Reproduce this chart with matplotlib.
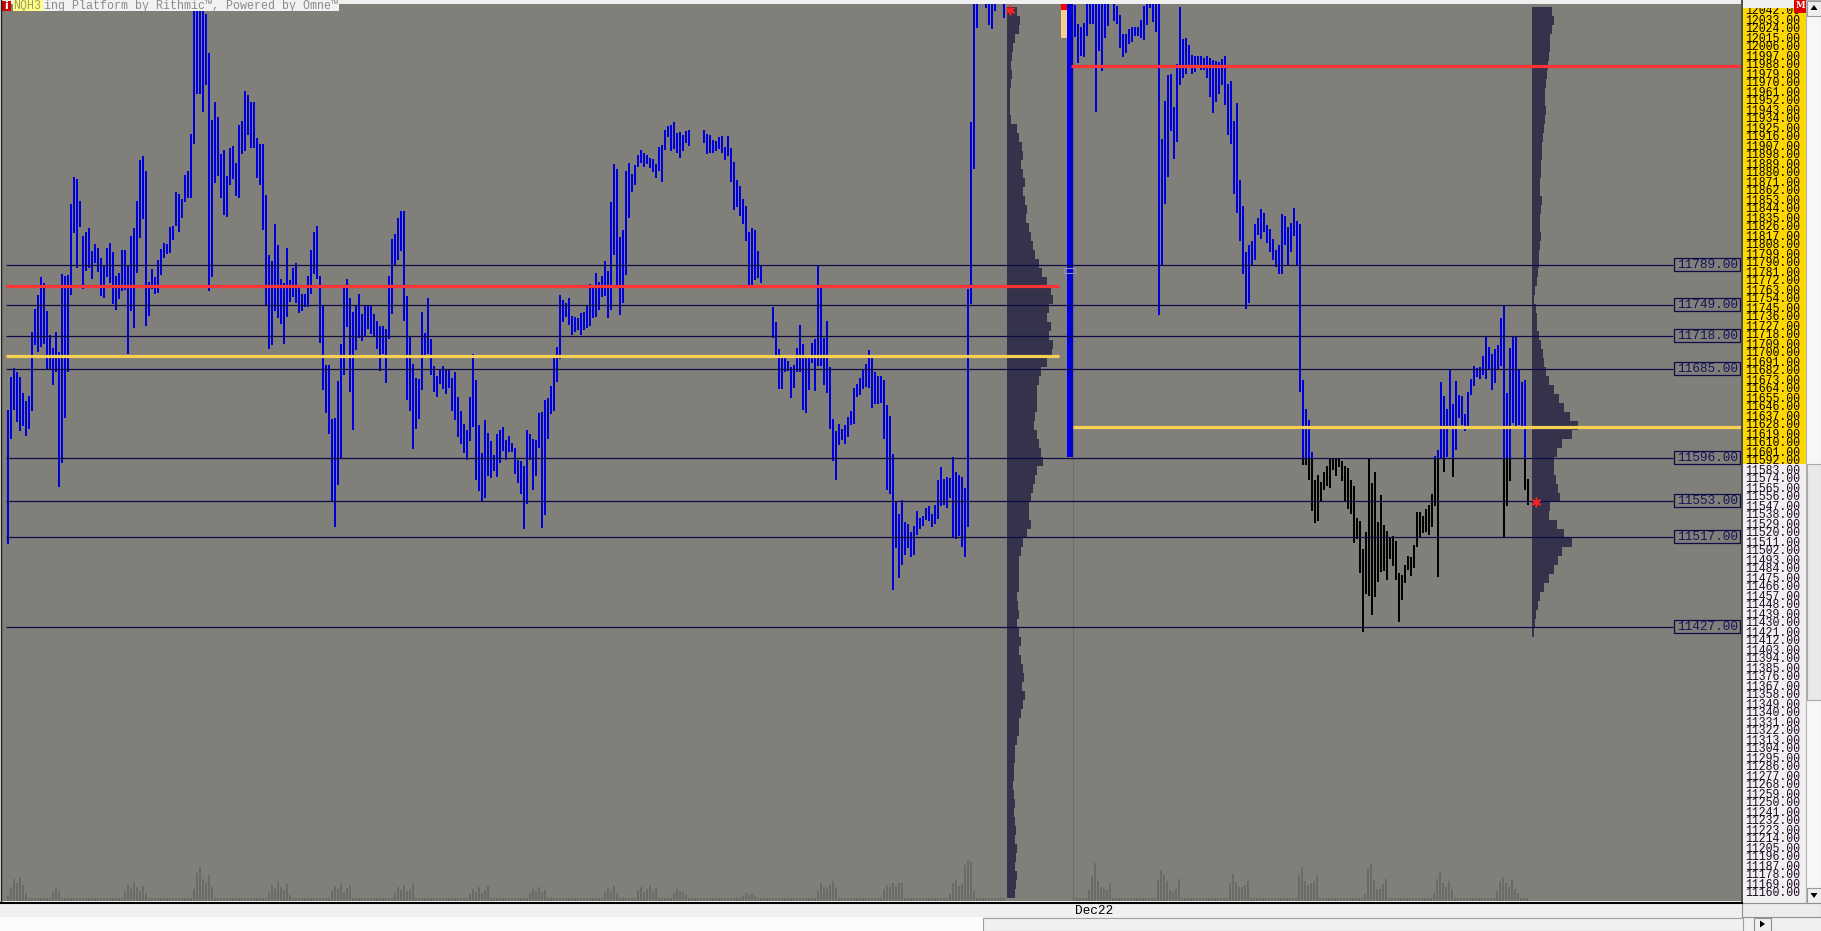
import numpy as np
import matplotlib
matplotlib.use("Agg")
import matplotlib.pyplot as plt
from matplotlib.patches import Rectangle, Polygon

nan = np.nan

# ---------------- data ----------------
# previous session bars (high / low), one per bar
LEFT_HIGH = [
    11644, 11677, 11686, 11682, 11677, 11661, 11653, 11658, 11722, 11745,
    11759, 11777, 11771, 11743, 11719, 11706, 11722, 11702, 11780, 11778,
    11779, 11850, 11877, 11875, 11853, 11818, 11822, 11826, 11803, 11810,
    11806, 11796, 11789, 11806, 11811, 11802, 11778, 11781, 11804, 11804,
    11789, 11818, 11826, 11853, 11894, 11898, 11883, 11772, 11785, 11777,
    11794, 11805, 11811, 11810, 11827, 11828, 11862, 11860, 11855, 11879,
    11883, 11920, 12060, 12060, 12060, 12060, 12040, 12001, 11934, 11952,
    11937, 11900, 11904, 11878, 11906, 11908, 11891, 11929, 11933, 11963,
    11959, 11952, 11952, 11916, 11910, 11910, 11859, 11799, 11793, 11830,
    11809, 11775, 11771, 11806, 11774, 11786, 11791, 11769, 11760, 11760,
    11778, 11804, 11822, 11828, 11778, 11749, 11689, 11689, 11635, 11636,
    11673, 11710, 11766, 11775, 11756, 11742, 11749, 11760, 11740, 11749,
    11748, 11749, 11740, 11733, 11728, 11728, 11725, 11778, 11815, 11820,
    11836, 11843, 11843, 11758, 11717, 11690, 11676, 11675, 11742, 11721,
    11756, 11715, 11688, 11678, 11684, 11688, 11685, 11685, 11676, 11682,
    11657, 11643, 11630, 11624, 11657, 11700, 11674, 11629, 11601, 11634,
    11621, 11613, 11599, 11620, 11624,
    11627, 11614, 11618, 11611, 11606, 11594, 11593, 11588, 11624, 11620,
    11615, 11614, 11641, 11642, 11654, 11656, 11668, 11699, 11707, 11759,
    11754, 11751, 11756, 11738, 11737, 11736, 11741, 11742, 11749, 11770,
    11768, 11781, 11772, 11778, 11793, 11783, 11852, 11890, 11885, 11817,
    11824, 11883, 11891, 11880, 11889, 11899, 11904, 11901, 11899, 11896,
    11895, 11890, 11907, 11909, 11924, 11928, 11929, 11932, 11921, 11922,
    11919, 11923, 11924, nan, nan, nan, nan, 11924, 11920, 11919,
    11914, 11913, 11917, 11918, 11907, 11918, 11906, 11892, 11874, 11868,
    11855, 11848, 11822, 11826, 11824, 11803, 11789, nan, nan, nan,
    11747, 11732, 11705, 11697, 11696, 11693, 11687, 11689, 11706, 11729,
    11710, 11697, 11697, 11711, 11715, 11789, 11769, 11716, 11733, 11687,
    11635, 11623, 11630, 11625, 11629, 11637, 11643, 11666, 11670, 11676,
    11685, 11690, 11704, 11699, 11682, 11678, 11678, 11674, 11649, 11638,
    11600, 11552, 11540, 11554, 11532, 11530, 11522, 11528, 11543, 11536,
    11538, 11546, 11548, 11540, 11549, 11574, 11587, 11575, 11577, 11576,
    11597, 11582, 11579, 11577, 11566, 11765, 11932, 12060, 12060, nan,
    nan, 12060, 12060, 12060, 12060, nan, nan, 12060,
]
LEFT_LOW = [
    11510, 11615, 11644, 11632, 11623, 11628, 11618, 11625, 11643, 11709,
    11702, 11707, 11710, 11685, 11684, 11669, 11682, 11567, 11591, 11636,
    11682, 11759, 11821, 11786, 11827, 11765, 11783, 11786, 11775, 11791,
    11782, 11758, 11756, 11777, 11771, 11750, 11744, 11755, 11763, 11764,
    11700, 11743, 11726, 11781, 11816, 11835, 11728, 11738, 11765, 11760,
    11761, 11779, 11796, 11800, 11801, 11814, 11828, 11822, 11836, 11852,
    11856, 11856, 11910, 11960, 11960, 11942, 11969, 11763, 11777, 11871,
    11878, 11856, 11839, 11837, 11869, 11875, 11858, 11856, 11900, 11903,
    11919, 11906, 11906, 11876, 11869, 11824, 11748, 11705, 11709, 11743,
    11736, 11730, 11710, 11737, 11752, 11757, 11751, 11741, 11743, 11747,
    11747, 11760, 11780, 11775, 11711, 11664, 11641, 11620, 11553, 11527,
    11569, 11596, 11679, 11727, 11662, 11624, 11704, 11716, 11713, 11718,
    11725, 11720, 11718, 11705, 11683, 11700, 11671, 11715, 11740, 11788,
    11794, 11803, 11733, 11654, 11643, 11605, 11625, 11635, 11664, 11697,
    11700, 11679, 11662, 11657, 11670, 11665, 11660, 11666, 11643, 11634,
    11617, 11610, 11601, 11594, 11613, 11627, 11574, 11563, 11552, 11556,
    11578, 11576, 11583, 11577, 11591,
    11603, 11594, 11602, 11602, 11580, 11571, 11560, 11525, 11550, 11594,
    11564, 11578, 11606, 11526, 11539, 11615, 11640, 11643, 11672, 11695,
    11732, 11737, 11729, 11719, 11722, 11724, 11719, 11724, 11726, 11728,
    11736, 11737, 11744, 11757, 11758, 11736, 11744, 11799, 11766, 11739,
    11751, 11779, 11836, 11862, 11869, 11887, 11891, 11887, 11890, 11886,
    11882, 11876, 11883, 11872, 11904, 11917, 11903, 11905, 11901, 11896,
    11903, 11911, 11908, nan, nan, nan, nan, 11911, 11900, 11901,
    11901, 11903, 11905, 11901, 11894, 11898, 11872, 11844, 11847, 11838,
    11830, 11813, 11768, 11768, 11774, 11776, 11771, nan, nan, nan,
    11716, 11698, 11665, 11665, 11682, 11683, 11656, 11666, 11682, 11682,
    11644, 11641, 11664, 11691, 11663, 11688, 11688, 11669, 11661, 11625,
    11593, 11574, 11609, 11614, 11610, 11617, 11629, 11630, 11657, 11659,
    11665, 11667, 11666, 11646, 11650, 11650, 11651, 11615, 11564, 11560,
    11464, 11506, 11476, 11489, 11499, 11506, 11497, 11499, 11519, 11525,
    11528, 11534, 11533, 11527, 11530, 11535, 11548, 11549, 11546, 11556,
    11516, 11515, 11518, 11507, 11497, 11527, 11750, 11885, 12026, nan,
    nan, 12046, 12029, 12025, 12043, nan, nan, 12036,
]
LEFT_VOL = [
    6, 14, 22, 18, 24, 16, 8, 3, 3, 3, 3, 3, 3, 3, 3, 9, 14, 10, 3, 3,
    3, 3, 3, 3, 3, 3, 3, 3, 3, 3, 3, 3, 3, 3, 3, 3, 3, 3, 3, 10,
    16, 12, 18, 14, 10, 15, 8, 3, 3, 3, 3, 3, 3, 3, 3, 3, 3, 3, 3, 3,
    3, 3, 12, 28, 34, 22, 18, 26, 14, 3, 3, 3, 3, 3, 3, 3, 3, 3, 3, 3,
    3, 3, 3, 3, 3, 3, 3, 8, 16, 12, 20, 14, 11, 17, 6, 3, 3, 3, 3, 3,
    3, 3, 3, 3, 3, 3, 3, 3, 10, 15, 12, 18, 9, 13, 16, 3, 3, 3, 3, 3,
    3, 3, 3, 3, 3, 3, 3, 3, 3, 8, 14, 11, 16, 10, 12, 18, 3, 3, 3, 3,
    3, 3, 3, 3, 3, 3, 3, 3, 3, 3, 3, 3, 3, 3, 7, 12, 9, 14, 8, 11,
    15, 3, 3, 3, 3, 3, 3, 3, 3, 3, 3, 3, 3, 3, 8, 12, 10, 14, 9, 11,
    3, 3, 3, 3, 3, 3, 3, 3, 3, 3, 3, 3, 3, 3, 3, 3, 3, 3, 3, 9,
    13, 10, 15, 8, 3, 3, 3, 3, 3, 3, 11, 14, 9, 12, 16, 10, 13, 3, 3, 3,
    3, 3, 8, 12, 10, 9, 6, 3, 3, 3, 3, 3, 3, 3, 3, 3, 3, 3, 3, 3,
    3, 3, 3, 3, 3, 5, 8, 6, 7, 5, 3, 3, 3, 3, 3, 3, 3, 3, 3, 3,
    3, 3, 3, 3, 3, 3, 3, 3, 3, 3, 10, 18, 14, 12, 16, 20, 13, 3, 3, 3,
    3, 3, 3, 3, 3, 3, 3, 3, 3, 3, 3, 3, 12, 16, 14, 18, 15, 18, 18, 3,
    3, 3, 3, 3, 3, 3, 3, 3, 3, 3, 3, 3, 3, 3, 7, 18, 21, 15, 17, 36,
    41, 39, 10, 3, 3, 3, 3, 3, 3, 3, 3, 3, 3,
]

# current session bars
RIGHT_HIGH = [
    12049, 12030, 12027, 12031, 12060, 12060, 12060, 12060, 12060, 12060,
    12060, 12060, nan, 12060, 12048, 12039, 12020, 12020, 12025, 12027,
    12027, 12027, 12034, 12048, 12060, 12060, 12060, 12060, 12060, 11915,
    11953, 11979, 11980, 11947, 11990, 12047, 12015, 12016, 12009, 11999,
    11998, 11998, 11998, 11996, 11998, 11996, 11994, 11993, 11992, 11995,
    11998, 11970, 11973, 11933, 11951, 11874, 11848, 11802, 11809, 11813,
    11830, 11836, 11845, 11841, 11829, 11825, 11815, 11804, 11809, 11840,
    11838, 11827, 11831, 11846, 11833, 11830, 11674, 11645, 11634, 11602,
    11574, 11579, 11572, 11582, 11588, 11596, 11596, 11596, 11596, 11593,
    11588, 11586, 11574, 11568, 11536, 11533, 11505, 11522, 11596, 11571,
    11582, 11532, 11559, 11529, 11523, 11516, 11518, 11513, 11481, 11479,
    11489, 11498, 11497, 11509, 11542, 11542, 11538, 11545, 11549, 11560,
    11598, 11604, 11672, 11658, 11645, 11685, 11650, 11673, 11659, 11658,
    11640, 11662, 11675, 11688, 11686, 11687, 11698, 11717, 11707, 11700,
    11705, 11709, 11736, 11749, 11661, 11706, 11718, 11718, 11685, 11672,
    11674, 11575,
]
RIGHT_LOW = [
    12017, 11991, 11998, 11997, 12018, 12030, 12030, 11942, 12003, 11983,
    12016, 12028, nan, 12033, 12030, 12006, 11997, 12001, 12010, 12012,
    12018, 12018, 12016, 12014, 12029, 12046, 12032, 12022, 11739, 11788,
    11850, 11877, 11923, 11895, 11912, 11969, 11976, 11980, 11987, 11980,
    11982, 11986, 11984, 11984, 11976, 11957, 11941, 11952, 11960, 11969,
    11949, 11919, 11910, 11860, 11841, 11813, 11780, 11745, 11751, 11789,
    11794, 11819, 11815, 11822, 11811, 11802, 11794, 11787, 11780, 11780,
    11809, 11788, 11802, 11818, 11788, 11662, 11589, 11589, 11574, 11543,
    11531, 11533, 11552, 11564, 11568, 11566, 11584, 11578, 11587, 11573,
    11553, 11545, 11540, 11511, 11515, 11481, 11422, 11460, 11458, 11439,
    11457, 11472, 11482, 11483, 11474, 11495, 11488, 11474, 11432, 11454,
    11471, 11484, 11478, 11486, 11507, 11516, 11521, 11522, 11519, 11527,
    11548, 11477, 11596, 11582, 11597, 11625, 11577, 11604, 11636, 11629,
    11623, 11627, 11659, 11668, 11677, 11675, 11679, 11675, 11685, 11664,
    11671, 11684, 11688, 11516, 11548, 11573, 11631, 11627, 11629, 11628,
    11564, 11549,
]
RIGHT_VOL = [
    3, 3, 3, 3, 3, 11, 25, 38, 20, 14, 12, 11, 18, 3, 3, 3, 3, 3, 3, 3,
    3, 3, 3, 3, 3, 3, 3, 3, 21, 31, 26, 20, 11, 9, 12, 22, 3, 3, 3, 3,
    3, 3, 3, 3, 3, 3, 3, 3, 3, 3, 3, 3, 18, 27, 19, 14, 14, 16, 20, 3,
    3, 3, 3, 3, 3, 3, 3, 3, 3, 3, 3, 3, 3, 3, 3, 26, 34, 20, 16, 18,
    20, 26, 3, 3, 3, 3, 3, 3, 3, 3, 3, 3, 3, 3, 3, 3, 3, 7, 32, 37,
    21, 12, 12, 17, 22, 3, 3, 3, 3, 3, 3, 3, 3, 3, 3, 3, 3, 3, 3, 3,
    8, 22, 30, 18, 14, 20, 12, 3, 3, 3, 3, 3, 3, 3, 3, 3, 3, 3, 3, 3,
    3, 10, 20, 24, 18, 14, 22, 12, 8, 3, 3, 3,
]

# compressed bar at the session break
BREAK_HIGH, BREAK_LOW = 12060, 11597
BREAK_TAN = (12016, 12044)

SPLIT_PRICE = 11596           # right session: below this the bars are black
LEVELS = [11789, 11749, 11718, 11685, 11596, 11553, 11517, 11427]
LEFT_RED, LEFT_YELLOW = 11767.6, 11698
RIGHT_RED, RIGHT_YELLOW = 11987.4, 11626.2
LAST_PRICE = 11552
PRICE_TICKS = list(range(12042, 11159, -9))

# volume profiles, width in pixels per 9-point row (from 12042 down)
LEFT_PROFILE = [
    10, 13, 12, 8, 6, 5, 4, 5, 4, 3,
    3, 3, 4, 10, 12, 15, 16, 14, 16, 18,
    16, 18, 20, 19, 22, 24, 26, 28, 32, 35,
    40, 44, 46, 42, 40, 44, 42, 46, 45, 40,
    34, 32, 30, 30, 30, 28, 27, 30, 32, 34,
    36, 30, 28, 26, 24, 22, 22, 24, 20, 16,
    14, 12, 12, 12, 12, 10, 11, 12, 10, 12,
    14, 12, 14, 16, 17, 15, 18, 16, 14, 12,
    12, 10, 8, 8, 7, 7, 6, 7, 8, 7,
    8, 9, 8, 10, 9, 8, 10, 9, 8,
]
RIGHT_PROFILE = [
    20, 22, 20, 18, 18, 17, 16, 15, 14, 13,
    13, 14, 13, 12, 11, 10, 10, 9, 9, 8,
    8, 10, 9, 8, 8, 9, 8, 7, 7, 6,
    5, 3, 2, 4, 5, 5, 7, 9, 11, 12,
    14, 17, 22, 27, 32, 38, 46, 40, 30, 25,
    22, 22, 24, 26, 28, 18, 17, 25, 32, 40,
    30, 26, 22, 17, 12, 8, 6, 4, 3, 2,
]

DATE_LABEL = "Dec22"
SYMBOL = "NQH3"
HEADER = "ing Platform by Rithmic\u2122, Powered by Omne\u2122"

# ---------------- styling / layout ----------------
W, H = 1821, 931
BG = "#817f79"
BLUE = "#0000dc"
NAVY = "#0c0c46"
PROFILE = "#34334b"
VOLC = "#6c6a66"
RED = "#ff3333"
YELLOW = "#f6d055"
MONO = ["Liberation Mono", "DejaVu Sans Mono"]

PLOT_L, PLOT_R, PLOT_T, PLOT_B = 1, 1742, 4, 901
Y_TOP = 12053.5 - PLOT_T      # one pixel per point
Y_BOT = 12053.5 - PLOT_B
X0 = -(7.7 - PLOT_L) / 3      # one bar slot = 3 pixels
X1 = X0 + (PLOT_R - PLOT_L) / 3


def px(xpix):
    return X0 + (xpix - PLOT_L) / 3


def fig_rect(x0, y0, x1, y1):
    return [x0 / W, 1 - y1 / H, (x1 - x0) / W, (y1 - y0) / H]


def strip(a):
    a.set_xticks([])
    a.set_yticks([])
    for s in a.spines.values():
        s.set_visible(False)


fig = plt.figure(figsize=(W / 100, H / 100), dpi=100)
fig.patch.set_facecolor("#f0f0f0")

# volume pane (behind the price pane)
axv = fig.add_axes(fig_rect(PLOT_L, PLOT_T, PLOT_R, PLOT_B))
axv.set_facecolor(BG)
axv.set_xlim(X0, X1)
axv.set_ylim(0, PLOT_B - PLOT_T)
strip(axv)

ax = fig.add_axes(fig_rect(PLOT_L, PLOT_T, PLOT_R, PLOT_B))
ax.set_zorder(axv.get_zorder() + 1)
ax.patch.set_alpha(0)
ax.set_xlim(X0, X1)
ax.set_ylim(Y_BOT, Y_TOP)
strip(ax)

lh = np.array(LEFT_HIGH, float)
ll = np.array(LEFT_LOW, float)
lx = np.arange(len(lh))
rh = np.array(RIGHT_HIGH, float)
rl = np.array(RIGHT_LOW, float)
rx = px(1075) + np.arange(len(rh))

# volume
axv.bar(lx, LEFT_VOL, width=2 / 3, color=VOLC, linewidth=0, antialiased=False)
axv.bar(rx - 0.4, RIGHT_VOL, width=2 / 3, color=VOLC, linewidth=0, antialiased=False)

# session separator
ax.axvline(px(1073.5), color="#6f6d69", lw=0.8, zorder=1)

# volume profiles
ax.barh(PRICE_TICKS[:len(LEFT_PROFILE)], np.array(LEFT_PROFILE) / 3, height=9,
        left=px(1007), color=PROFILE, linewidth=0, antialiased=False, zorder=2)
ax.barh(PRICE_TICKS[:len(RIGHT_PROFILE)], np.array(RIGHT_PROFILE) / 3, height=9,
        left=px(1532), color=PROFILE, linewidth=0, antialiased=False, zorder=2)

# previous session bars
m = ~np.isnan(lh)
ax.bar(lx[m], (lh - ll)[m], bottom=ll[m], width=2 / 3, color=BLUE,
       linewidth=0, antialiased=False, zorder=3)

# current session bars: blue above the split price, black below
m = ~np.isnan(rh)
top_b = np.maximum(rl, SPLIT_PRICE)
mb = m & (rh > SPLIT_PRICE)
ax.bar(rx[mb], (rh - top_b)[mb], bottom=top_b[mb], width=2 / 3, color=BLUE,
       linewidth=0, antialiased=False, zorder=3)
bot_t = np.minimum(rh, SPLIT_PRICE)
mk = m & (rl < SPLIT_PRICE)
ax.bar(rx[mk], (bot_t - rl)[mk], bottom=rl[mk], width=2 / 3, color="black",
       linewidth=0, antialiased=False, zorder=3)

# compressed break bar
ax.bar(px(1070), BREAK_HIGH - BREAK_LOW, bottom=BREAK_LOW, width=2, color=BLUE,
       linewidth=0, antialiased=False, zorder=3)
ax.bar(px(1064), BREAK_TAN[1] - BREAK_TAN[0], bottom=BREAK_TAN[0], width=2,
       color="#f5cf92", linewidth=0, antialiased=False, zorder=3)
ax.bar(px(1064), BREAK_HIGH - BREAK_TAN[1], bottom=BREAK_TAN[1], width=2,
       color="#ff0000", linewidth=0, antialiased=False, zorder=3)
ax.add_patch(Rectangle((px(1064), 11781), 11 / 3, 5, fc="none", ec="#8a90c0",
                       lw=0.8, zorder=4))

# level lines with boxed labels
ax.hlines(LEVELS, px(6), px(1673), colors=NAVY, lw=0.9, zorder=4)
for lev in LEVELS:
    ax.add_patch(Rectangle((px(1674), lev - 6.5), 66 / 3, 13, fc="none",
                           ec=NAVY, lw=0.9, zorder=4))
    ax.text(px(1707.5), lev - 0.5, f"{lev:.2f}", ha="center", va="center",
            family=MONO, fontsize=9.2, color="#15155a", zorder=5)

ax.hlines([LEFT_RED], px(6), px(1059), colors=RED, lw=2.3, zorder=5)
ax.hlines([LEFT_YELLOW], px(6), px(1059), colors=YELLOW, lw=2.3, zorder=5)
ax.hlines([RIGHT_RED], px(1071), px(1742), colors=RED, lw=2.3, zorder=5)
ax.hlines([RIGHT_YELLOW], px(1073), px(1742), colors=YELLOW, lw=2.3, zorder=5)

# last-price asterisks
ax.plot([px(1010)], [12044], marker=(6, 2, 0), ms=7, mew=1.1, color="#ff2020",
        zorder=6, linestyle="none")
ax.plot([px(1536)], [LAST_PRICE], marker=(6, 2, 0), ms=7, mew=1.1,
        color="#ff2020", zorder=6, linestyle="none")

# price scale
axp = fig.add_axes(fig_rect(1743, PLOT_T, 1806, PLOT_B))
axp.set_xlim(0, 1)
axp.set_ylim(Y_BOT, Y_TOP)
axp.set_facecolor("#f0f0f0")
strip(axp)
axp.add_patch(Rectangle((0, 11590), 1, 12045.5 - 11590, fc="#ffd700", lw=0))
for p in PRICE_TICKS:
    axp.text(0.03, p, f"{p}.00", ha="left", va="center", family=MONO,
             fontsize=8.3, color="black" if p > 11590 else "#1e0a24",
             clip_on=True)

# window chrome
ui = fig.add_axes([0, 0, 1, 1])
ui.set_zorder(20)
ui.patch.set_alpha(0)
ui.set_xlim(0, W)
ui.set_ylim(H, 0)
strip(ui)

ui.plot([0.5, 0.5], [0, 902], color="#202020", lw=1.0)
ui.plot([1742, 1742], [0, 902], color="#4c4c4c", lw=1.4)

ui.add_patch(Rectangle((1, 1), 10, 10, fc="#cc0000", lw=0))
ui.text(6, 6.2, "i", ha="center", va="center", color="white", fontsize=8,
        fontweight="bold")
ui.add_patch(Rectangle((12.5, 0), 30.5, 10.5, fc="#ffff88", lw=0))
ui.text(13.5, 5.5, SYMBOL, ha="left", va="center", family=MONO, fontsize=8.4,
        color="#9c9c62")
ui.add_patch(Rectangle((43, 0), 296, 10.5, fc="#f2f2f2", lw=0))
ui.text(43.5, 5.5, HEADER, ha="left", va="center", family=MONO, fontsize=8.4,
        color="#8a8a8a")

ui.add_patch(Rectangle((1743, 0), 63, 8, fc="#f0f0f0", lw=0))
ui.add_patch(Rectangle((1794, 0), 12, 12.5, fc="#dd0000", lw=0))
ui.text(1800, 5.2, "M", ha="center", va="center", color="white", fontsize=6.3,
        fontweight="bold", family="DejaVu Serif")

# vertical scrollbar
ui.add_patch(Rectangle((1806, 0), 15, 903, fc="#f7f7f7", ec="#b4b4b4", lw=0.8))
ui.add_patch(Rectangle((1807, 0.5), 13.5, 15, fc="#f0f0f0", ec="#9a9a9a", lw=0.8))
ui.add_patch(Polygon([[1810.5, 10], [1817.5, 10], [1814, 5]], fc="black", lw=0))
ui.add_patch(Rectangle((1807, 464), 13.5, 236, fc="#e9e9e9", ec="#a8a8a8", lw=0.8))
ui.add_patch(Rectangle((1807, 888), 13.5, 15, fc="#f0f0f0", ec="#9a9a9a", lw=0.8))
ui.add_patch(Polygon([[1810.5, 893], [1817.5, 893], [1814, 898]], fc="black", lw=0))

# time axis strip
ui.add_patch(Rectangle((0, 902), 1742, 15, fc="#f0f0f0", lw=0))
ui.plot([0, 1742], [902.5, 902.5], color="black", lw=1.5)
ui.text(1075, 910.5, DATE_LABEL, ha="left", va="center", family=MONO,
        fontsize=9.2, color="black")
ui.add_patch(Rectangle((1742, 903), 79, 14, fc="#ececec", ec="#909090", lw=0.8))

# horizontal scrollbar
ui.add_patch(Rectangle((0, 917), 983, 14, fc="#fbfbfb", lw=0))
ui.add_patch(Rectangle((983, 918), 760, 12.5, fc="#f0f0f0", ec="#a0a0a0", lw=0.8))
ui.add_patch(Rectangle((1754, 917.5), 17, 13.5, fc="#f0f0f0", ec="#909090", lw=0.8))
ui.add_patch(Polygon([[1760, 920.5], [1760, 927.5], [1765, 924]], fc="black", lw=0))

fig.savefig("out.png", dpi=100, facecolor=fig.get_facecolor())
